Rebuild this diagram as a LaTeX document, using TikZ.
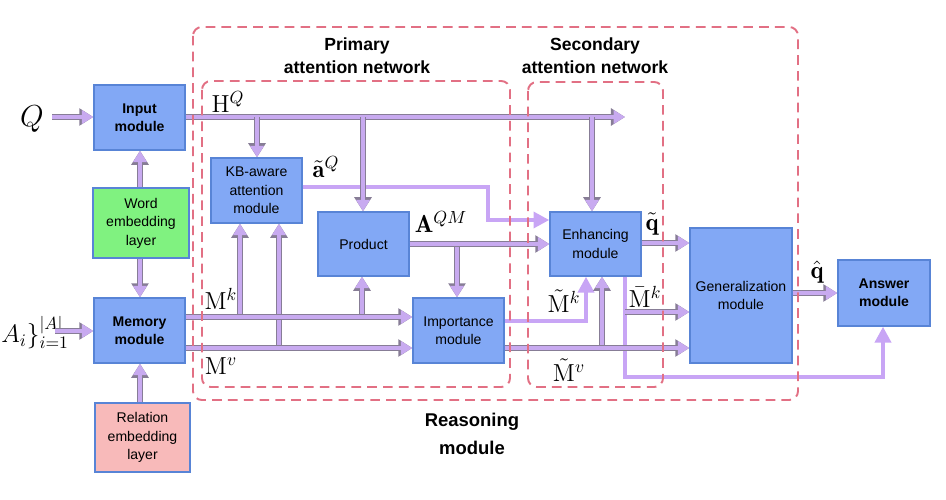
\documentclass[tikz,border=0pt]{standalone}
\usepackage{fontspec}
\newfontfamily\arialf{Liberation Sans}
\usetikzlibrary{arrows.meta}
\definecolor{boxblue}{RGB}{130,168,245}
\definecolor{boxedge}{RGB}{88,132,214}
\definecolor{boxgreen}{RGB}{128,242,128}
\definecolor{boxpink}{RGB}{248,186,186}
\definecolor{arrfill}{RGB}{200,170,240}
\definecolor{arredge}{RGB}{135,125,150}
\definecolor{lav}{RGB}{200,165,245}
\definecolor{dashred}{RGB}{226,112,132}
\begin{document}
\begin{tikzpicture}[x=0.02cm,y=-0.02cm,
  box/.style={draw=boxedge, fill=boxblue, line width=0.8pt, inner sep=0pt, align=center,
    font=\arialf\fontsize{8}{10.5}\selectfont},
  boldbox/.style={box, font=\arialf\bfseries\fontsize{8}{10.5}\selectfont},
  arr/.style={draw=arrfill, line width=2.1pt, -{Triangle[length=6.5pt,width=7.5pt,fill=arrfill]},
    preaction={draw=arredge, line width=3.3pt, -{Triangle[length=8pt,width=9.5pt]}}},
  larr/.style={draw=lav, line width=2.6pt, -{Triangle[length=9pt,width=9pt]}},
  dbox/.style={draw=dashred, line width=1.1pt, dash pattern=on 5.5pt off 3.5pt, rounded corners=5pt},
  lab/.style={inner sep=0pt, font=\fontsize{14}{16}\selectfont},
  title/.style={align=center, inner sep=0pt, font=\arialf\bfseries\fontsize{10}{13}\selectfont}
]
\useasboundingbox (0,0) rectangle (946,500);

% nodes
\node[boldbox, minimum width=1.82cm, minimum height=1.3cm] (input) at (139.5,117.5) {Input\\module};
\node[box, fill=boxgreen, minimum width=1.92cm, minimum height=1.4cm] (word) at (141,223) {Word\\embedding\\layer};
\node[boldbox, minimum width=1.82cm, minimum height=1.3cm] (memory) at (139.5,330.5) {Memory\\module};
\node[box, fill=boxpink, minimum width=1.9cm, minimum height=1.38cm] (relation) at (142.5,437.5) {Relation\\embedding\\layer};
\node[box, minimum width=1.82cm, minimum height=1.3cm] (kb) at (256.5,190.5) {KB-aware\\attention\\module};
\node[box, minimum width=1.82cm, minimum height=1.28cm] (product) at (363.5,244) {Product};
\node[box, minimum width=1.82cm, minimum height=1.3cm] (importance) at (458.5,330.5) {Importance\\module};
\node[box, minimum width=1.82cm, minimum height=1.28cm] (enhancing) at (595.5,244) {Enhancing\\module};
\node[box, minimum width=2.04cm, minimum height=2.7cm] (general) at (741,295.5) {Generalization\\module};
\node[boldbox, minimum width=1.84cm, minimum height=1.32cm] (answer) at (884,293) {Answer\\module};

% labels
\node[lab, font=\fontsize{16}{18}\selectfont] (lQ) at (32,119) {$Q$};
\node[lab, anchor=west] (lA) at (1,333) {$A_i\}_{i=1}^{|A|}$};
\node[lab] (lHQ) at (228,102) {$\mathrm{H}^Q$};
\node[lab] (laQ) at (326,167) {$\tilde{\mathbf{a}}^Q$};
\node[lab] (lAQM) at (441,222) {$\mathbf{A}^{QM}$};
\node[lab] (lqt) at (652,224) {$\tilde{\mathbf{q}}$};
\node[lab] (lMk) at (221,299) {$\mathrm{M}^k$};
\node[lab] (lMv) at (221,366) {$\mathrm{M}^v$};
\node[lab] (lMtk) at (564,301) {$\tilde{\mathrm{M}}^k$};
\node[lab] (lMtv) at (569,370) {$\tilde{\mathrm{M}}^v$};
\node[lab] (lMbk) at (645,297) {$\bar{\mathrm{M}}^k$};
\node[lab] (lqh) at (817,272) {$\hat{\mathbf{q}}$};

\node[title] (tprim) at (357,56) {Primary\\attention network};
\node[title] (tsec) at (595,56) {Secondary\\attention network};
\node[title, font=\arialf\bfseries\fontsize{10.5}{15.5}\selectfont] (treas) at (472,434) {Reasoning\\module};

% coordinates
\coordinate (hqend) at (625,117);

% light arrows (under)
\draw[larr] (kb.east |- 0,187) -- (488,187) -- (488,220) -- (enhancing.west |- 0,220);
\draw[larr] (importance.east |- 0,321) -- (586,321) -- (586,0 |- enhancing.south);
\draw[larr] (625,0 |- enhancing.south) -- (625,377) -- (883,377) -- (883,0 |- answer.south);

% thick arrows
\draw[arr] (52,117) -- (input.west |- 0,117);
\draw[arr] (55,331) -- (memory.west |- 0,331);
\draw[arr] (140,0 |- word.north) -- (140,0 |- input.south);
\draw[arr] (140,0 |- word.south) -- (140,0 |- memory.north);
\draw[arr] (140,0 |- relation.north) -- (140,0 |- memory.south);

\draw[arr] (input.east |- 0,117) -- (hqend);
\draw[arr] (257,117) -- (257,0 |- kb.north);
\draw[arr] (363,117) -- (363,0 |- product.north);
\draw[arr] (592,117) -- (592,0 |- enhancing.north);

\draw[arr] (240,317) -- (240,0 |- kb.south);
\draw[arr] (279,348) -- (279,0 |- kb.south);
\draw[arr] (362,317) -- (362,0 |- product.south);
\draw[arr] (memory.east |- 0,317) -- (importance.west |- 0,317);
\draw[arr] (memory.east |- 0,348) -- (importance.west |- 0,348);

\draw[arr] (457,244) -- (457,0 |- importance.north);
\draw[arr] (product.east |- 0,244) -- (enhancing.west |- 0,244);

\draw[arr] (602,348) -- (602,0 |- enhancing.south);
\draw[arr] (importance.east |- 0,348) -- (general.west |- 0,348);
\draw[arr] (enhancing.east |- 0,243) -- (general.west |- 0,243);
\draw[arr] (625,312) -- (general.west |- 0,312);
\draw[arr] (general.east |- 0,293) -- (answer.west |- 0,293);

% dashed groups
\draw[dbox] (193,27) rectangle (798,400);
\draw[dbox] (202,81) rectangle (510,387);
\draw[dbox] (528,82) rectangle (663,387);
\end{tikzpicture}
\end{document}
